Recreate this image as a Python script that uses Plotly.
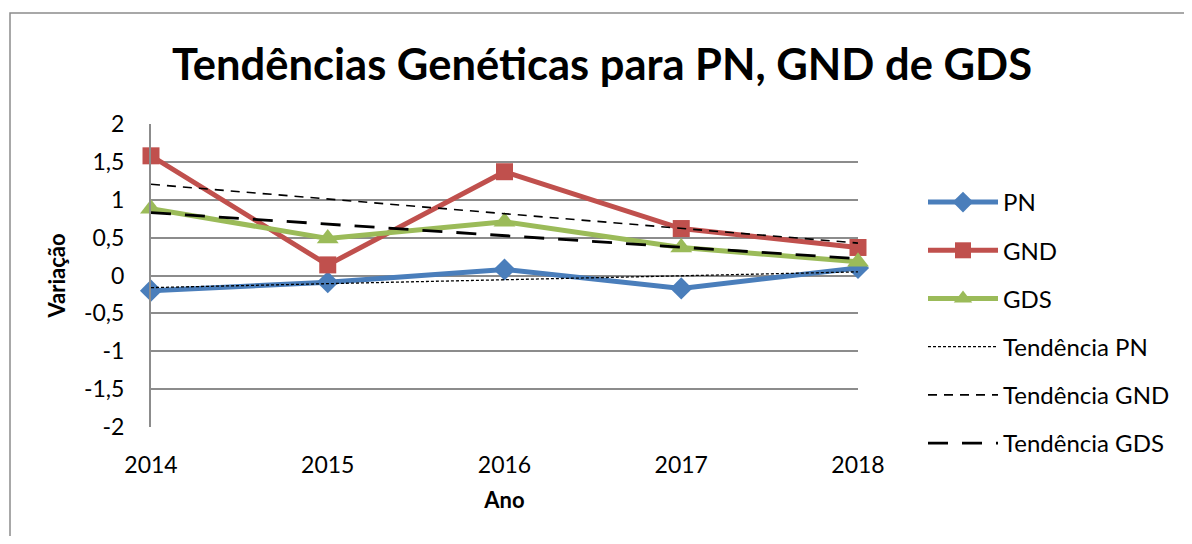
import numpy as np
import plotly.graph_objects as go

# Dados
anos = [2014, 2015, 2016, 2017, 2018]
pn = [-0.20, -0.09, 0.08, -0.17, 0.10]
gnd = [1.58, 0.14, 1.37, 0.62, 0.37]
gds = [0.88, 0.49, 0.71, 0.37, 0.18]

y_ticks = [-2, -1.5, -1, -0.5, 0, 0.5, 1, 1.5, 2]
y_labels = ["-2", "-1,5", "-1", "-0,5", "0", "0,5", "1", "1,5", "2"]

FONT = "Lato"
GRID = "#8c8c8c"

# a página tem 8px de margem no body
W, H = 1176, 528
L, R, T, B = 143, 850, 116, 419   # área do gráfico em px da figura


def tendencia(x, y):
    # linha de tendência linear (mínimos quadrados), como no Excel
    a, b = np.polyfit(x, y, 1)
    return [a * xi + b for xi in x]


fig = go.Figure()

# Séries
fig.add_trace(go.Scatter(x=anos, y=pn, mode='lines+markers', name='PN',
                         line=dict(color='#4a7ebb', width=5),
                         marker=dict(symbol='diamond', size=17, color='#4a7ebb'),
                         legendgroup='a', cliponaxis=False))
fig.add_trace(go.Scatter(x=anos, y=gnd, mode='lines+markers', name='GND',
                         line=dict(color='#c0504d', width=5),
                         marker=dict(symbol='square', size=17, color='#c0504d'),
                         legendgroup='b', cliponaxis=False))
fig.add_trace(go.Scatter(x=anos, y=gds, mode='lines+markers', name='GDS',
                         line=dict(color='#9bbb59', width=5),
                         marker=dict(symbol='triangle-up', size=19, color='#9bbb59'),
                         legendgroup='c', cliponaxis=False))

# Tendências
fig.add_trace(go.Scatter(x=anos, y=tendencia(anos, pn), mode='lines',
                         name='Tendência PN',
                         line=dict(color='black', width=1.3, dash='3px,2px'),
                         legendgroup='d'))
fig.add_trace(go.Scatter(x=anos, y=tendencia(anos, gnd), mode='lines',
                         name='Tendência GND',
                         line=dict(color='black', width=1.6, dash='9px,7px'),
                         legendgroup='e'))
fig.add_trace(go.Scatter(x=anos, y=tendencia(anos, gds), mode='lines',
                         name='Tendência GDS',
                         line=dict(color='black', width=2.8, dash='20px,14px'),
                         legendgroup='f'))

fig.update_layout(
    width=W, height=H,
    margin=dict(l=L, r=W - R, t=T, b=H - B, autoexpand=False),
    paper_bgcolor='white', plot_bgcolor='white',
    font=dict(family=FONT, size=23, color='black'),
    title=dict(text='<b>Tendências Genéticas para PN, GND de GDS</b>',
               x=594 / W, xanchor='center', y=1 - 57 / H, yanchor='middle',
               font=dict(family=FONT, size=43.5, color='black')),
    xaxis=dict(range=[2014, 2018], tickvals=anos, ticktext=[str(a) for a in anos],
               showgrid=False, zeroline=False, showline=False,
               ticklabelstandoff=22,
               title=dict(text='<b>Ano</b>', font=dict(size=22), standoff=15)),
    yaxis=dict(range=[-2, 2], tickvals=y_ticks, ticktext=y_labels,
               showgrid=True, gridcolor=GRID, gridwidth=2, zeroline=False,
               showline=True, linecolor=GRID, linewidth=2,
               ticklabelstandoff=20,
               title=dict(text='<b>Variação</b>', font=dict(size=22), standoff=12)),
    legend=dict(x=(915 - L) / (R - L), xanchor='left', y=(B - 172) / (B - T), yanchor='top',
                font=dict(size=24), tracegroupgap=14, itemwidth=70,
                bgcolor='rgba(0,0,0,0)'),
    shapes=[dict(type='rect', xref='paper', yref='paper',
                 x0=(2 - L) / (R - L), x1=1.6, y0=-0.6, y1=(B - 5) / (B - T),
                 line=dict(color=GRID, width=1.5), layer='below')],
)

fig.write_html("out.html")
